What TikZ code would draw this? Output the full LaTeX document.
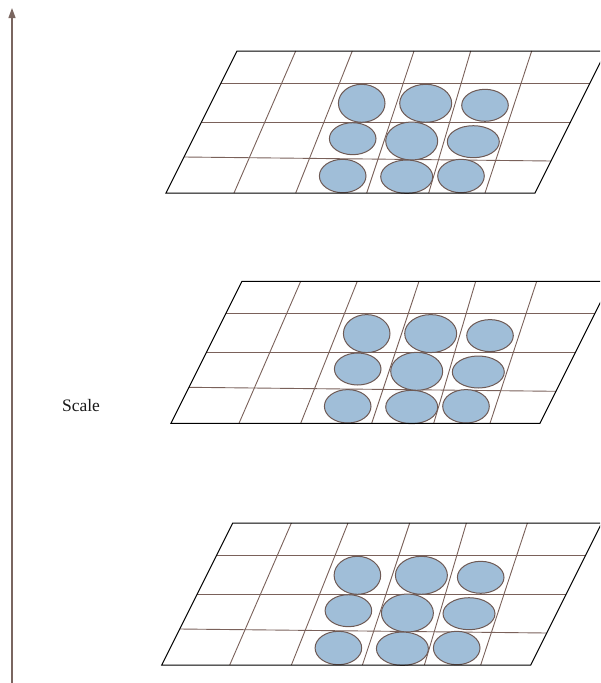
\documentclass[tikz,border=0pt]{standalone}
\usepackage{fontspec}
\setmainfont{Liberation Serif}
\usetikzlibrary{arrows.meta}
\definecolor{cellfill}{HTML}{A0BED8}
\definecolor{cellline}{HTML}{6E5A55}
\definecolor{gridline}{HTML}{7A615A}
\definecolor{axisline}{HTML}{7A6660}
\begin{document}
\begin{tikzpicture}[x=1pt,y=-1pt,
  border/.style={draw=black,line width=1pt},
  gridl/.style={draw=gridline,line width=0.9pt},
  blob/.style={draw=cellline,fill=cellfill,line width=1pt},
  axis/.style={draw=axisline,line width=1.2pt,-{Triangle[length=10pt,width=7pt]}}]
\useasboundingbox (0,0) rectangle (600,683);
\clip (0,0) rectangle (600,683);
\foreach \ox/\oy in {166/193, 171/423.3, 161.7/665} {
  \begin{scope}[shift={(\ox,\oy)}, y=1pt]
    \draw[gridl] (55,110) -- (424,110);
    \draw[gridl] (35.5,71) -- (404.5,71);
    \draw[gridl] (18,36) -- (385,32);
    \foreach \b/\t in {68/129.7, 129.7/186.3, 200.7/248, 262.7/304.7, 319/365.7}
      \draw[gridl] (\b,0) -- (\t,142);
    \foreach \cx/\cy/\rx/\ry in {195.7/89.7/23.3/19, 259.7/89.7/26/19, 319/87.7/23.3/16,
        186.7/54.3/23.3/16, 245.7/52/26/19, 307.3/51.3/26/16,
        176.7/17/23.3/16.7, 240.7/16.3/26/16.7, 295/17/23.3/16.7}
      \draw[blob] (\cx,\cy) ellipse [x radius=\rx, y radius=\ry];
    \draw[border] (0,0) -- (369,0) -- (440,142) -- (71,142) -- cycle;
  \end{scope}
}
\coordinate (abot) at (12,683);
\coordinate (atop) at (12,8);
\draw[axis] (abot) -- (atop);
\node[font=\fontsize{17.5}{20}\selectfont, text=black!90] (scale) at (81,405.5) {Scale};
\end{tikzpicture}
\end{document}
